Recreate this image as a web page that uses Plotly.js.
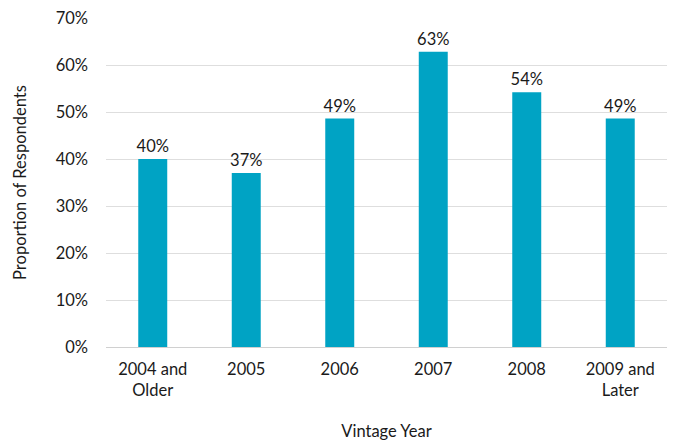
<!DOCTYPE html>
<html><head><meta charset="utf-8">
<script src="https://cdn.plot.ly/plotly-3.0.1.min.js"></script>
<style>html,body{margin:0;padding:0;background:#fff}#chart{width:675px;height:441px}</style>
</head><body><div id="chart"></div>
<script>
var categories = ["2004 and<br>Older", "2005", "2006", "2007", "2008", "2009 and<br>Later"];
var values = [40.0, 37.0, 48.6, 62.8, 54.2, 48.6];
var labels = ["40%", "37%", "49%", "63%", "54%", "49%"];
var yTickVals = [0, 10, 20, 30, 40, 50, 60, 70];
var yTickText = ["0%", "10%", "20%", "30%", "40%", "50%", "60%", "70%"];

var font = "Lato, 'Noto Sans', sans-serif";
var fs = 16.5;
Plotly.newPlot("chart", [{
  type: "bar", x: categories, y: values, text: labels,
  textposition: "outside", cliponaxis: false, constraintext: "none",
  textfont: {family: font, size: fs, color: "#1a1a1a"},
  marker: {color: "#00A3C4"}, hoverinfo: "none"
}], {
  width: 675, height: 441,
  margin: {l: 106, r: 8, t: 18, b: 94},
  bargap: 0.69,
  paper_bgcolor: "#fff", plot_bgcolor: "#fff",
  font: {family: font, size: fs, color: "#1a1a1a"},
  xaxis: {
    type: "category",
    showgrid: false, zeroline: false, showline: true, linecolor: "#d0d0d0", linewidth: 1,
    ticks: "", ticklabelstandoff: 7, tickfont: {size: fs, family: font},
    title: {text: "Vintage Year", font: {size: fs, family: font}, standoff: 30}
  },
  yaxis: {
    range: [0, 70], tickvals: yTickVals, ticktext: yTickText,
    showgrid: true, gridcolor: "#dedede", zeroline: false, showline: false,
    ticks: "", ticklabelstandoff: 17, tickfont: {size: fs, family: font},
    title: {text: "Proportion of Respondents", font: {size: fs, family: font}, standoff: 24}
  },
  showlegend: false
}, {displayModeBar: false, staticPlot: true});
</script></body></html>
